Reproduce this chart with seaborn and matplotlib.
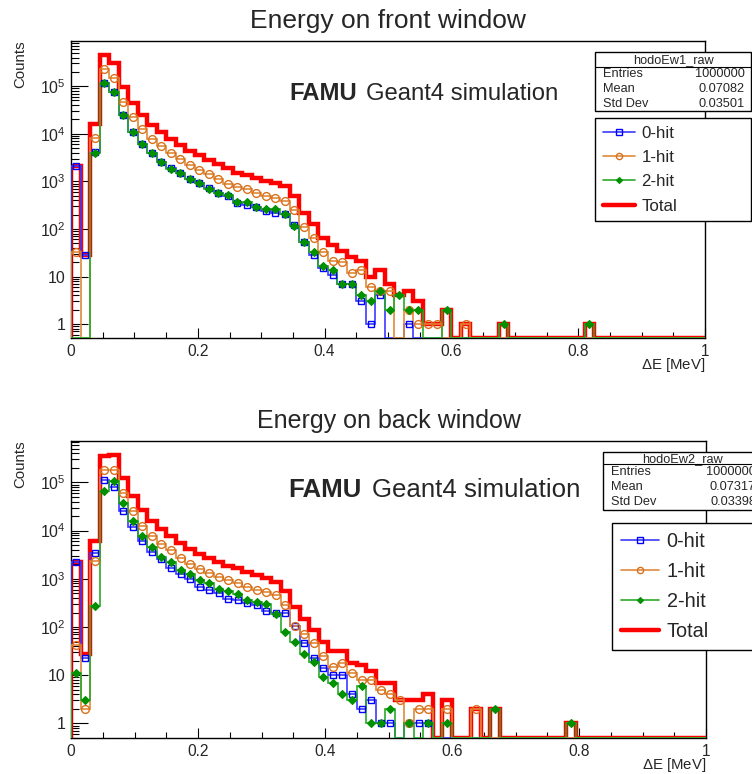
import numpy as np
import pandas as pd
import matplotlib
matplotlib.use('Agg')
import matplotlib.pyplot as plt
import seaborn as sns
from matplotlib.lines import Line2D
from matplotlib.patches import Rectangle
from matplotlib.ticker import FixedLocator, LogLocator, NullFormatter

sns.set_style('ticks')
plt.rcParams['font.family'] = ['Liberation Sans', 'DejaVu Sans']
plt.rcParams['mathtext.fontset'] = 'custom'
plt.rcParams['mathtext.rm'] = 'Liberation Sans'
plt.rcParams['mathtext.it'] = 'Liberation Sans:italic'

# ---- data: counts per 0.015 MeV bin, starting at 0 ----
BIN_W = 0.015
N_BINS = 67

front_0hit = [2100, 28, 4100, 115000, 74000, 24700, 10700, 6000, 3900, 2600, 1900, 1500,
              1100, 930, 720, 575, 490, 355, 315, 290, 235, 218, 204, 120, 53, 28, 15, 11,
              7, 7, 3, 1, 4, 0, 0, 1]
front_1hit = [33, 0, 8000, 230000, 150000, 47000, 22000, 12400, 7700, 5500, 4000, 2900,
              2200, 1730, 1400, 1120, 900, 760, 675, 575, 495, 450, 385, 245, 110, 66, 32,
              21, 20, 12, 14, 6, 5, 5, 0, 2, 1, 1, 1, 0, 0, 1]
front_2hit = [0, 0, 4000, 115000, 76000, 24700, 10700, 6000, 3900, 2600, 1850, 1500, 1100,
              930, 700, 575, 510, 370, 360, 290, 265, 262, 210, 117, 53, 32, 17, 14, 7, 7,
              4, 3, 5, 2, 4, 2, 2, 0, 0, 2, 0, 0, 0, 0, 0, 1, 0, 0, 0, 0, 0, 0, 0, 0, 1]

back_0hit = [2180, 23, 3500, 112000, 81000, 25600, 12000, 6100, 3550, 2550, 1700, 1260,
             980, 690, 590, 505, 385, 370, 315, 280, 210, 200, 195, 103, 46, 23, 14, 10,
             10, 4, 2, 3, 1, 1, 0, 1, 1, 1]
back_1hit = [43, 2, 2350, 180000, 180000, 59000, 25600, 12600, 7900, 5200, 3900, 2700,
             2000, 1600, 1300, 1100, 950, 815, 690, 590, 525, 455, 280, 103, 73, 46, 25,
             15, 18, 11, 8, 8, 5, 4, 3, 1, 2, 2, 0, 2, 0, 0, 2]
back_2hit = [11, 3, 270, 67000, 108000, 38000, 15500, 7700, 4500, 2900, 2200, 1500, 1250,
             950, 815, 620, 550, 480, 370, 325, 305, 190, 78, 49, 28, 19, 9, 7, 4, 3, 6, 1,
             1, 2, 0, 1, 0, 1, 0, 1, 0, 0, 0, 0, 2, 0, 0, 0, 0, 0, 0, 0, 1]

series_names = ['0-hit', '1-hit', '2-hit']
x_ticks = [0, 0.2, 0.4, 0.6, 0.8, 1]
x_ticklabels = ['0', '0.2', '0.4', '0.6', '0.8', '1']
y_ticks = [1, 10, 100, 1e3, 1e4, 1e5]
y_ticklabels = ['1', '10', '$10^{2}$', '$10^{3}$', '$10^{4}$', '$10^{5}$']
front_stats = ('hodoEw1_raw', '1000000', '0.07082', '0.03501')
back_stats = ('hodoEw2_raw', '1000000', '0.07317', '0.03398')

edges = np.arange(N_BINS + 1) * BIN_W
centers = edges[:-1] + BIN_W / 2


def padded(vals):
    return np.pad(np.asarray(vals, dtype=float), (0, N_BINS - len(vals)))


STYLE = {
    '0-hit': dict(line='#3a3aff', mk='s', mfc='none', mec='#0000ff', ms=5.0, mew=1.0),
    '1-hit': dict(line='#e08a3a', mk='o', mfc='none', mec='#d9701c', ms=5.6, mew=1.0),
    '2-hit': dict(line='#2aa82a', mk='D', mfc='#009000', mec='#009000', ms=3.8, mew=0.8),
}
RED = '#ff0000'

W, H = 752, 774
fig = plt.figure(figsize=(W / 100, H / 100), dpi=100)


def fx(px):
    return px / W


def fy(py):
    return 1 - py / H


def panel(rect, counts, ylim, title, tsize, txt_pos, txt_size, stats, sbox, leg, lsize):
    x0, y0, x1, y1 = rect
    ax = fig.add_axes([fx(x0), fy(y1), fx(x1) - fx(x0), (y1 - y0) / H])
    ax.set_yscale('log')
    ax.set_xlim(0, 1)
    ax.set_ylim(*ylim)
    floor = ylim[0]

    total = sum(padded(c) for c in counts)
    ax.stairs(np.where(total > 0, total, floor), edges, color=RED, lw=3.2, zorder=2)
    for name, vals in zip(series_names, counts):
        v = padded(vals)
        st = STYLE[name]
        ax.stairs(np.where(v > 0, v, floor), edges, color=st['line'], lw=1.2, zorder=3)
        df = pd.DataFrame({'x': centers[v > 0], 'y': v[v > 0]})
        sns.lineplot(data=df, x='x', y='y', ax=ax, estimator=None, linestyle='',
                     marker=st['mk'], markersize=st['ms'], markerfacecolor=st['mfc'],
                     markeredgecolor=st['mec'], markeredgewidth=st['mew'], zorder=4)

    ax.set_xlabel('')
    ax.set_ylabel('')
    for s in ax.spines.values():
        s.set_linewidth(1.0)
        s.set_color('black')
    ax.xaxis.set_major_locator(FixedLocator(x_ticks))
    ax.set_xticklabels(x_ticklabels)
    ax.xaxis.set_minor_locator(FixedLocator(np.arange(0.05, 1.0, 0.05)))
    ax.yaxis.set_major_locator(FixedLocator(y_ticks))
    ax.set_yticklabels(y_ticklabels)
    ax.yaxis.set_minor_locator(LogLocator(base=10, subs=np.arange(2, 10), numticks=20))
    ax.yaxis.set_minor_formatter(NullFormatter())
    ax.tick_params(axis='both', which='both', direction='in', top=False, right=False,
                   width=0.8, color='black')
    ax.tick_params(axis='x', which='major', length=7, labelsize=15.5 * 0.72, pad=4)
    ax.tick_params(axis='x', which='minor', length=4)
    ax.tick_params(axis='y', which='major', length=12, labelsize=16 * 0.72, pad=4)
    ax.tick_params(axis='y', which='minor', length=6)

    xm = (x0 + x1) / 2
    fig.text(fx(xm), fy(y0 - 8), title, ha='center', va='bottom', fontsize=tsize)
    fig.text(fx(x1), fy(y1 + 18), r'$\Delta$E [MeV]', ha='right', va='top',
             fontsize=15 * 0.72)
    fig.text(fx(20), fy(y0 - 1), 'Counts', ha='center', va='top', rotation=90,
             fontsize=15 * 0.72)
    fig.text(fx(txt_pos[0]), fy(txt_pos[1]), 'FAMU', ha='left', va='baseline',
             fontsize=txt_size, fontweight='bold')
    fig.text(fx(txt_pos[2]), fy(txt_pos[1]), 'Geant4 simulation', ha='left', va='baseline',
             fontsize=txt_size)

    # stat box
    bx0, by0, bx1, by1, bsep = sbox
    fig.patches.append(Rectangle((fx(bx0), fy(by1)), fx(bx1) - fx(bx0), (by1 - by0) / H,
                                 transform=fig.transFigure, facecolor='white',
                                 edgecolor='black', lw=1.0, zorder=5))
    fig.add_artist(Line2D([fx(bx0), fx(bx1)], [fy(bsep), fy(bsep)], color='black', lw=0.8,
                          zorder=6))
    fig.text(fx((bx0 + bx1) / 2), fy((by0 + bsep) / 2 + 1), stats[0], ha='center',
             va='center', fontsize=9.2, zorder=7)
    row_h = (by1 - bsep) / 3
    for i, (lab, val) in enumerate(zip(['Entries', 'Mean', 'Std Dev'], stats[1:])):
        yy = fy(bsep + row_h * (i + 0.5))
        fig.text(fx(bx0 + 8), yy, lab, ha='left', va='center', fontsize=9.2, zorder=7)
        fig.text(fx(bx1 - 6), yy, val, ha='right', va='center', fontsize=9.2, zorder=7)

    # legend
    lx0, ly0, lx1, ly1 = leg
    handles = []
    for name in series_names:
        st = STYLE[name]
        handles.append(Line2D([], [], color=st['line'], lw=1.2, marker=st['mk'],
                              markersize=st['ms'] * 0.8, markerfacecolor=st['mfc'],
                              markeredgecolor=st['mec'], markeredgewidth=st['mew']))
    handles.append(Line2D([], [], color=RED, lw=3.2))
    lg = fig.legend(handles, series_names + ['Total'], loc='upper left',
                    bbox_to_anchor=(fx(lx0), fy(ly1), fx(lx1) - fx(lx0), (ly1 - ly0) / H),
                    mode='expand', fontsize=lsize, frameon=True, fancybox=False,
                    edgecolor='black', framealpha=1, borderaxespad=0, handlelength=1.9,
                    handletextpad=0.4, labelspacing=0.55, borderpad=0.45)
    lg.get_frame().set_linewidth(1.0)
    return ax


panel((71, 41, 705, 338), [front_0hit, front_1hit, front_2hit], (0.51, 8.9e5),
      'Energy on front window', 19, (289, 100, 366), 17.2, front_stats,
      (595, 52, 751, 111, 67), (595, 118, 751, 234), 12.2)
panel((71, 441, 706, 738), [back_0hit, back_1hit, back_2hit], (0.5, 7.2e5),
      'Energy on back window', 18, (288, 497, 372), 18.6, back_stats,
      (603, 452, 762, 510, 464), (612, 523, 762, 652), 14.3)

fig.savefig('out.png', dpi=100)
